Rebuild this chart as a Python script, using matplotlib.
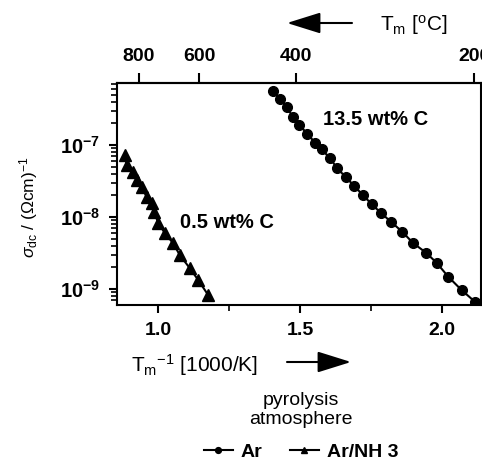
import numpy as np
import matplotlib
matplotlib.use("Agg")
import matplotlib.pyplot as plt
from matplotlib.patches import FancyArrowPatch
from matplotlib.ticker import LogLocator, NullFormatter, FixedLocator

plt.rcParams["font.family"] = ["Liberation Sans", "DejaVu Sans"]
plt.rcParams["mathtext.fontset"] = "custom"
plt.rcParams["mathtext.rm"] = "Liberation Sans"
plt.rcParams["mathtext.it"] = "Liberation Sans:italic"
plt.rcParams["mathtext.bf"] = "Liberation Sans:bold"

# ----------------------------
# data
# x = 1000/T [1000/K], y = log10(sigma_dc)
# ----------------------------
ar_x = [1.406, 1.430, 1.453, 1.474, 1.498, 1.526, 1.553, 1.576, 1.606, 1.631,
        1.662, 1.691, 1.721, 1.752, 1.784, 1.820, 1.860, 1.897, 1.944, 1.981,
        2.022, 2.069, 2.116]
ar_logy = [-6.25, -6.365, -6.468, -6.607, -6.722, -6.847, -6.968, -7.060, -7.185, -7.324,
           -7.449, -7.569, -7.694, -7.819, -7.940, -8.065, -8.204, -8.357, -8.496, -8.635,
           -8.829, -9.014, -9.176]

nh3_x = [0.884, 0.890, 0.911, 0.925, 0.943, 0.960, 0.978, 0.986, 1.001, 1.025,
         1.054, 1.077, 1.113, 1.142, 1.177]
nh3_logy = [-7.139, -7.278, -7.371, -7.486, -7.588, -7.718, -7.810, -7.926, -8.079, -8.226,
            -8.365, -8.528, -8.713, -8.875, -9.083]

series_labels = ["Ar", "Ar/NH 3"]
x_ticks = [1.0, 1.5, 2.0]
x_ticklabels = ["1.0", "1.5", "2.0"]
y_ticks = [1e-9, 1e-8, 1e-7]
y_ticklabels = [r"$\mathbf{10^{-9}}$", r"$\mathbf{10^{-8}}$", r"$\mathbf{10^{-7}}$"]
top_ticks = [800, 600, 400, 200]

W, H = 482, 463


def fx(px):
    return px / W


def fy(py):
    return 1 - py / H


# ----------------------------
# figure
# ----------------------------
fig = plt.figure(figsize=(4.82, 4.63), dpi=100)
ax = fig.add_axes([fx(117), fy(305), (481 - 117) / W, (305 - 83) / H])

ax.plot(ar_x, 10 ** np.array(ar_logy), "-o", color="black", lw=1.5, ms=7,
        label=series_labels[0])
ax.plot(nh3_x, 10 ** np.array(nh3_logy), "-^", color="black", lw=1.5, ms=8,
        label=series_labels[1])

ax.set_yscale("log")
ax.set_xlim(0.856, 2.137)
ax.set_ylim(10 ** -9.22, 10 ** -6.14)

ax.set_xticks(x_ticks)
ax.set_xticklabels(x_ticklabels, fontweight="bold", fontsize=14)
ax.xaxis.set_minor_locator(FixedLocator([1.25, 1.75]))
ax.set_yticks(y_ticks)
ax.set_yticklabels(y_ticklabels, fontsize=14.5)
ax.yaxis.set_minor_locator(LogLocator(base=10, subs=np.arange(2, 10)))
ax.yaxis.set_minor_formatter(NullFormatter())

for s in ax.spines.values():
    s.set_linewidth(1.5)
ax.tick_params(which="major", direction="out", length=6, width=1.5, pad=6)
ax.tick_params(which="minor", direction="out", length=4, width=1.2)

# top axis in deg C
secax = ax.secondary_xaxis("top", functions=(lambda x: 1000.0 / x - 273.15,
                                             lambda t: 1000.0 / (t + 273.15)))
secax.set_xticks(top_ticks)
secax.set_xticklabels([str(t) for t in top_ticks], fontweight="bold", fontsize=14)
secax.tick_params(direction="out", length=7, width=1.5, pad=6)
secax.spines["top"].set_linewidth(1.5)

# annotations
ax.text(1.767, 10 ** -6.65, "13.5 wt% C", fontsize=14.5, fontweight="bold",
        ha="center", va="center")
ax.text(1.077, 10 ** -8.08, "0.5 wt% C", fontsize=14.5, fontweight="bold",
        ha="left", va="center")

# axis labels
fig.text(fx(29), fy(207), r"$\sigma_{\rm dc}$ / ($\Omega$cm)$^{-1}$", rotation=90,
         ha="center", va="center", fontsize=12.5)
fig.text(fx(131), fy(365), r"T$_{\rm m}$$^{-1}$ [1000/K]", ha="left", va="center",
         fontsize=15)
fig.text(fx(380), fy(25), r"T$_{\rm m}$ [$^{\rm o}$C]", ha="left", va="center",
         fontsize=15)

# arrows
arrow_kw = dict(arrowstyle="-|>,head_length=1.6,head_width=0.5", color="black",
                lw=1.5, shrinkA=0, shrinkB=0, mutation_scale=13,
                transform=fig.transFigure)
fig.add_artist(FancyArrowPatch((fx(287), fy(362)), (fx(351), fy(362)), **arrow_kw))
fig.add_artist(FancyArrowPatch((fx(352), fy(23)), (fx(287), fy(23)), **arrow_kw))

# legend
fig.text(fx(301), fy(410), "pyrolysis\natmosphere", ha="center", va="center",
         fontsize=14, linespacing=1.2)
handles, labels = ax.get_legend_handles_labels()
leg = fig.legend(handles, labels, loc="center", bbox_to_anchor=(fx(301), fy(452)),
                 ncol=2, frameon=False, handlelength=1.5, handletextpad=0.4,
                 columnspacing=1.4, markerscale=0.6,
                 prop={"weight": "bold", "size": 14})

fig.savefig("out.png", dpi=100)
